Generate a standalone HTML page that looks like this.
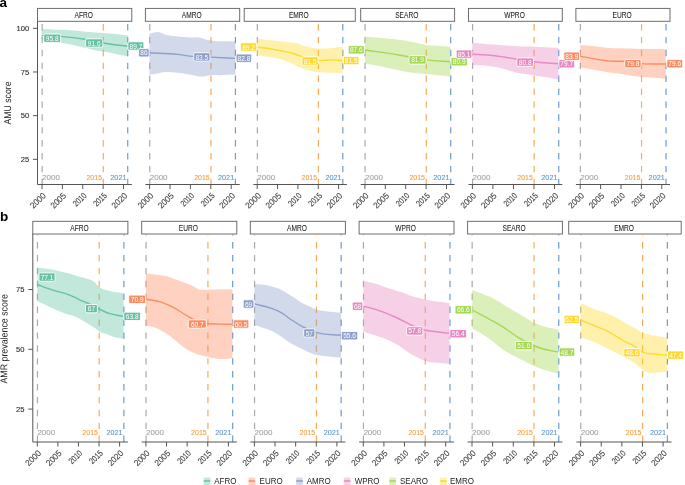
<!DOCTYPE html>
<html><head><meta charset="utf-8"><title>AMU and AMR scores</title>
<style>html,body{margin:0;padding:0;background:#fff;overflow:hidden}svg{display:block}</style>
</head><body>
<svg width="685" height="485" viewBox="0 0 685 485" font-family="'Liberation Sans', Arial, Helvetica, sans-serif">
<rect width="685" height="485" fill="#fff"/>
<rect x="37.5" y="8.4" width="94.3" height="12.9" fill="#fff" stroke="#666" stroke-width="0.95"/>
<text font-size="8.2" fill="#1a1a1a" text-anchor="middle" stroke="#1a1a1a" stroke-width="0.06" transform="translate(83.75,17.8) scale(0.8078,1)">AFRO</text>
<line x1="42.15" y1="184.5" x2="42.15" y2="21.4" stroke="#a9a9a9" stroke-width="1.2" stroke-dasharray="6.4 6.5" stroke-dashoffset="0.7"/>
<line x1="103.28" y1="184.5" x2="103.28" y2="21.4" stroke="#FAAA58" stroke-width="1.2" stroke-dasharray="6.4 6.5" stroke-dashoffset="0.7"/>
<line x1="127.73" y1="184.5" x2="127.73" y2="21.4" stroke="#6A9DCE" stroke-width="1.2" stroke-dasharray="6.4 6.5" stroke-dashoffset="0.7"/>
<path d="M41.7,29.1 C46.3,29.3 50.9,29.57 55.5,29.7 C56.97,29.74 58.43,29.75 59.9,29.8 C64.27,29.94 68.63,30.28 73,30.6 C77.4,30.92 81.8,31.3 86.2,31.7 C90,32.04 93.8,32.59 97.6,32.8 C99.47,32.9 101.33,32.91 103.2,33 C111.37,33.38 119.53,34.53 127.7,35.3 L127.7,56.6 C119.53,54.9 111.37,52.77 103.2,51.5 C101.33,51.21 99.47,51.02 97.6,50.7 C93.8,50.05 90,48.98 86.2,48.1 C81.8,47.08 77.4,45.92 73,45 C68.63,44.09 64.27,43.4 59.9,42.6 C58.43,42.33 56.97,42.06 55.5,41.8 C50.9,40.98 46.3,40.27 41.7,39.5 Z" fill="#66C2A5" fill-opacity="0.4"/>
<path d="M41.7,35.6 C47.8,35.87 53.9,35.95 60,36.4 C68.33,37.02 76.67,37.91 85,39.3 C91.07,40.31 97.13,41.94 103.2,43 C111.37,44.42 119.53,45.2 127.7,46.3" fill="none" stroke="#66C2A5" stroke-width="1.4" stroke-linejoin="round"/>
<text font-size="8.1" fill="#a3a3a3" stroke="#a3a3a3" stroke-width="0.1" transform="translate(42.1,179.7) scale(0.9938,1)">2000</text>
<text font-size="8.1" fill="#F99C3C" text-anchor="end" stroke="#F99C3C" stroke-width="0.1" transform="translate(102.03,179.7) scale(0.8642,1)">2015</text>
<text font-size="8.1" fill="#5F96CC" text-anchor="end" stroke="#5F96CC" stroke-width="0.1" transform="translate(126.48,179.7) scale(0.8988,1)">2021</text>
<line x1="37.5" y1="184.5" x2="131.8" y2="184.5" stroke="#555555" stroke-width="1"/>
<line x1="42" y1="184.5" x2="42" y2="189" stroke="#555555" stroke-width="1"/>
<text font-size="8.6" fill="#333" text-anchor="end" stroke="#333" stroke-width="0.08" transform="translate(46.4,196.2) rotate(-45) scale(0.9507,1)">2000</text>
<line x1="62.38" y1="184.5" x2="62.38" y2="189" stroke="#555555" stroke-width="1"/>
<text font-size="8.6" fill="#333" text-anchor="end" stroke="#333" stroke-width="0.08" transform="translate(66.78,196.2) rotate(-45) scale(0.9507,1)">2005</text>
<line x1="82.75" y1="184.5" x2="82.75" y2="189" stroke="#555555" stroke-width="1"/>
<text font-size="8.6" fill="#333" text-anchor="end" stroke="#333" stroke-width="0.08" transform="translate(87.15,196.2) rotate(-45) scale(0.8064,1)">2010</text>
<line x1="103.12" y1="184.5" x2="103.12" y2="189" stroke="#555555" stroke-width="1"/>
<text font-size="8.6" fill="#333" text-anchor="end" stroke="#333" stroke-width="0.08" transform="translate(107.53,196.2) rotate(-45) scale(0.8064,1)">2015</text>
<line x1="123.5" y1="184.5" x2="123.5" y2="189" stroke="#555555" stroke-width="1"/>
<text font-size="8.6" fill="#333" text-anchor="end" stroke="#333" stroke-width="0.08" transform="translate(127.9,196.2) rotate(-45) scale(0.9507,1)">2020</text>
<line x1="37.5" y1="21.4" x2="37.5" y2="184.5" stroke="#555555" stroke-width="1"/>
<line x1="33" y1="28.3" x2="37.5" y2="28.3" stroke="#555555" stroke-width="1"/>
<text font-size="8.1" fill="#2a2a2a" text-anchor="end" stroke="#2a2a2a" stroke-width="0.1" transform="translate(29.2,31.1) scale(0.9373,1)">100</text>
<line x1="33" y1="71.98" x2="37.5" y2="71.98" stroke="#555555" stroke-width="1"/>
<text font-size="8.1" fill="#2a2a2a" text-anchor="end" stroke="#2a2a2a" stroke-width="0.1" transform="translate(29.2,74.78) scale(0.9373,1)">75</text>
<line x1="33" y1="115.65" x2="37.5" y2="115.65" stroke="#555555" stroke-width="1"/>
<text font-size="8.1" fill="#2a2a2a" text-anchor="end" stroke="#2a2a2a" stroke-width="0.1" transform="translate(29.2,118.45) scale(0.9373,1)">50</text>
<line x1="33" y1="159.33" x2="37.5" y2="159.33" stroke="#555555" stroke-width="1"/>
<text font-size="8.1" fill="#2a2a2a" text-anchor="end" stroke="#2a2a2a" stroke-width="0.1" transform="translate(29.2,162.13) scale(0.9373,1)">25</text>
<rect x="145.4" y="8.4" width="94.3" height="12.9" fill="#fff" stroke="#666" stroke-width="0.95"/>
<text font-size="8.2" fill="#1a1a1a" text-anchor="middle" stroke="#1a1a1a" stroke-width="0.06" transform="translate(191.65,17.8) scale(0.8078,1)">AMRO</text>
<line x1="149.75" y1="184.5" x2="149.75" y2="21.4" stroke="#a9a9a9" stroke-width="1.2" stroke-dasharray="6.4 6.5" stroke-dashoffset="0.7"/>
<line x1="210.95" y1="184.5" x2="210.95" y2="21.4" stroke="#FAAA58" stroke-width="1.2" stroke-dasharray="6.4 6.5" stroke-dashoffset="0.7"/>
<line x1="235.43" y1="184.5" x2="235.43" y2="21.4" stroke="#6A9DCE" stroke-width="1.2" stroke-dasharray="6.4 6.5" stroke-dashoffset="0.7"/>
<path d="M149.5,33.8 C152.53,33.23 155.57,31.64 158.6,32.1 C160.63,32.41 162.67,33.79 164.7,34.4 C168.83,35.64 172.97,35.68 177.1,36.2 C181.23,36.72 185.37,37.31 189.5,37.5 C192.8,37.65 196.1,36.81 199.4,37.5 C201.23,37.89 203.07,38.79 204.9,39.3 C206.77,39.82 208.63,40.28 210.5,40.6 C213.57,41.12 216.63,41.07 219.7,41.2 C224.93,41.42 230.17,41.2 235.4,41.2 L235.4,74.6 C230.17,74.8 224.93,75.13 219.7,75.2 C216.63,75.24 213.57,74.79 210.5,75.2 C208.63,75.45 206.77,76.2 204.9,76.4 C203.07,76.59 201.23,76.52 199.4,76.4 C196.1,76.19 192.8,75.16 189.5,74.6 C185.37,73.9 181.23,73.12 177.1,72.7 C172.97,72.28 168.83,71.62 164.7,72.1 C162.67,72.34 160.63,72.94 158.6,73.3 C155.57,73.83 152.53,74.17 149.5,74.6 Z" fill="#8DA0CB" fill-opacity="0.4"/>
<path d="M149.5,52.8 C158.7,53.33 167.9,53.47 177.1,54.4 C182.4,54.94 187.7,55.95 193,56.4 C198.83,56.9 204.67,56.84 210.5,57.1 C218.8,57.47 227.1,57.93 235.4,58.35" fill="none" stroke="#8DA0CB" stroke-width="1.4" stroke-linejoin="round"/>
<text font-size="8.1" fill="#a3a3a3" stroke="#a3a3a3" stroke-width="0.1" transform="translate(149.7,179.7) scale(0.9938,1)">2000</text>
<text font-size="8.1" fill="#F99C3C" text-anchor="end" stroke="#F99C3C" stroke-width="0.1" transform="translate(209.7,179.7) scale(0.8642,1)">2015</text>
<text font-size="8.1" fill="#5F96CC" text-anchor="end" stroke="#5F96CC" stroke-width="0.1" transform="translate(234.18,179.7) scale(0.8988,1)">2021</text>
<line x1="145.4" y1="184.5" x2="239.7" y2="184.5" stroke="#555555" stroke-width="1"/>
<line x1="149.6" y1="184.5" x2="149.6" y2="189" stroke="#555555" stroke-width="1"/>
<text font-size="8.6" fill="#333" text-anchor="end" stroke="#333" stroke-width="0.08" transform="translate(154,196.2) rotate(-45) scale(0.9507,1)">2000</text>
<line x1="170" y1="184.5" x2="170" y2="189" stroke="#555555" stroke-width="1"/>
<text font-size="8.6" fill="#333" text-anchor="end" stroke="#333" stroke-width="0.08" transform="translate(174.4,196.2) rotate(-45) scale(0.9507,1)">2005</text>
<line x1="190.4" y1="184.5" x2="190.4" y2="189" stroke="#555555" stroke-width="1"/>
<text font-size="8.6" fill="#333" text-anchor="end" stroke="#333" stroke-width="0.08" transform="translate(194.8,196.2) rotate(-45) scale(0.8064,1)">2010</text>
<line x1="210.8" y1="184.5" x2="210.8" y2="189" stroke="#555555" stroke-width="1"/>
<text font-size="8.6" fill="#333" text-anchor="end" stroke="#333" stroke-width="0.08" transform="translate(215.2,196.2) rotate(-45) scale(0.8064,1)">2015</text>
<line x1="231.2" y1="184.5" x2="231.2" y2="189" stroke="#555555" stroke-width="1"/>
<text font-size="8.6" fill="#333" text-anchor="end" stroke="#333" stroke-width="0.08" transform="translate(235.6,196.2) rotate(-45) scale(0.9507,1)">2020</text>
<rect x="244.2" y="8.4" width="111.1" height="12.9" fill="#fff" stroke="#666" stroke-width="0.95"/>
<text font-size="8.2" fill="#1a1a1a" text-anchor="middle" stroke="#1a1a1a" stroke-width="0.06" transform="translate(298.85,17.8) scale(0.8078,1)">EMRO</text>
<line x1="257.35" y1="184.5" x2="257.35" y2="21.4" stroke="#a9a9a9" stroke-width="1.2" stroke-dasharray="6.4 6.5" stroke-dashoffset="0.7"/>
<line x1="318.4" y1="184.5" x2="318.4" y2="21.4" stroke="#FAAA58" stroke-width="1.2" stroke-dasharray="6.4 6.5" stroke-dashoffset="0.7"/>
<line x1="342.82" y1="184.5" x2="342.82" y2="21.4" stroke="#6A9DCE" stroke-width="1.2" stroke-dasharray="6.4 6.5" stroke-dashoffset="0.7"/>
<path d="M257.3,39.1 C259.93,39.3 262.57,39.46 265.2,39.7 C268.6,40.01 272,40.44 275.4,40.8 C278.83,41.17 282.27,41.52 285.7,41.9 C287.8,42.13 289.9,42.33 292,42.6 C293.67,42.81 295.33,42.8 297,43.3 C298.33,43.7 299.67,44.53 301,45 C302.67,45.59 304.33,45.87 306,46.3 C307.67,46.73 309.33,47.26 311,47.6 C313.53,48.12 316.07,48.34 318.6,48.5 C322.7,48.76 326.8,48.51 330.9,48.2 C334.83,47.9 338.77,47.2 342.7,46.7 L342.7,73.3 C338.77,73.1 334.83,72.9 330.9,72.7 C326.8,72.5 322.7,72.54 318.6,72.1 C316.07,71.83 313.53,71.6 311,71 C309.33,70.6 307.67,69.98 306,69.5 C304.33,69.02 302.67,68.75 301,68.1 C299.67,67.58 298.33,66.86 297,66.2 C295.33,65.38 293.67,64.4 292,63.6 C289.9,62.59 287.8,61.69 285.7,60.9 C282.27,59.61 278.83,58.65 275.4,57.9 C272,57.16 268.6,56.89 265.2,56.4 C262.57,56.02 259.93,55.67 257.3,55.3 Z" fill="#FFD92F" fill-opacity="0.4"/>
<path d="M257.3,47.2 C259.93,47.47 262.57,47.66 265.2,48 C268.6,48.44 272,49.07 275.4,49.7 C278.83,50.34 282.27,51.12 285.7,51.8 C287.4,52.14 289.1,52.35 290.8,52.8 C292.5,53.25 294.2,53.92 295.9,54.5 C297.6,55.08 299.3,55.74 301,56.3 C306.77,58.2 312.53,60.18 318.3,60.6 C322.5,60.9 326.7,59.88 330.9,59.9 C334.77,59.92 338.63,60.37 342.5,60.6" fill="none" stroke="#FFD92F" stroke-width="1.4" stroke-linejoin="round"/>
<text font-size="8.1" fill="#a3a3a3" stroke="#a3a3a3" stroke-width="0.1" transform="translate(257.3,179.7) scale(0.9938,1)">2000</text>
<text font-size="8.1" fill="#F99C3C" text-anchor="end" stroke="#F99C3C" stroke-width="0.1" transform="translate(317.15,179.7) scale(0.8642,1)">2015</text>
<text font-size="8.1" fill="#5F96CC" text-anchor="end" stroke="#5F96CC" stroke-width="0.1" transform="translate(341.57,179.7) scale(0.8988,1)">2021</text>
<line x1="253.4" y1="184.5" x2="346.9" y2="184.5" stroke="#555555" stroke-width="1"/>
<line x1="257.2" y1="184.5" x2="257.2" y2="189" stroke="#555555" stroke-width="1"/>
<text font-size="8.6" fill="#333" text-anchor="end" stroke="#333" stroke-width="0.08" transform="translate(261.6,196.2) rotate(-45) scale(0.9507,1)">2000</text>
<line x1="277.55" y1="184.5" x2="277.55" y2="189" stroke="#555555" stroke-width="1"/>
<text font-size="8.6" fill="#333" text-anchor="end" stroke="#333" stroke-width="0.08" transform="translate(281.95,196.2) rotate(-45) scale(0.9507,1)">2005</text>
<line x1="297.9" y1="184.5" x2="297.9" y2="189" stroke="#555555" stroke-width="1"/>
<text font-size="8.6" fill="#333" text-anchor="end" stroke="#333" stroke-width="0.08" transform="translate(302.3,196.2) rotate(-45) scale(0.8064,1)">2010</text>
<line x1="318.25" y1="184.5" x2="318.25" y2="189" stroke="#555555" stroke-width="1"/>
<text font-size="8.6" fill="#333" text-anchor="end" stroke="#333" stroke-width="0.08" transform="translate(322.65,196.2) rotate(-45) scale(0.8064,1)">2015</text>
<line x1="338.6" y1="184.5" x2="338.6" y2="189" stroke="#555555" stroke-width="1"/>
<text font-size="8.6" fill="#333" text-anchor="end" stroke="#333" stroke-width="0.08" transform="translate(343,196.2) rotate(-45) scale(0.9507,1)">2020</text>
<rect x="360.7" y="8.4" width="93.9" height="12.9" fill="#fff" stroke="#666" stroke-width="0.95"/>
<text font-size="8.2" fill="#1a1a1a" text-anchor="middle" stroke="#1a1a1a" stroke-width="0.06" transform="translate(406.75,17.8) scale(0.8078,1)">SEARO</text>
<line x1="365.05" y1="184.5" x2="365.05" y2="21.4" stroke="#a9a9a9" stroke-width="1.2" stroke-dasharray="6.4 6.5" stroke-dashoffset="0.7"/>
<line x1="426.25" y1="184.5" x2="426.25" y2="21.4" stroke="#FAAA58" stroke-width="1.2" stroke-dasharray="6.4 6.5" stroke-dashoffset="0.7"/>
<line x1="450.73" y1="184.5" x2="450.73" y2="21.4" stroke="#6A9DCE" stroke-width="1.2" stroke-dasharray="6.4 6.5" stroke-dashoffset="0.7"/>
<path d="M364.9,36.8 C370.63,37.23 376.37,37.6 382.1,38.1 C386.23,38.46 390.37,38.82 394.5,39.3 C397.8,39.68 401.1,40.09 404.4,40.6 C407.07,41.01 409.73,41.5 412.4,42 C416.93,42.86 421.47,44.26 426,44.9 C429.7,45.42 433.4,45.52 437.1,45.8 C441.57,46.13 446.03,46.4 450.5,46.7 L450.5,76.4 C446.03,76 441.57,75.65 437.1,75.2 C433.4,74.83 429.7,74.38 426,74 C421.47,73.54 416.93,73.29 412.4,72.7 C409.73,72.35 407.07,71.95 404.4,71.5 C401.1,70.94 397.8,70.32 394.5,69.6 C390.37,68.7 386.23,67.41 382.1,66.5 C376.37,65.23 370.63,64.43 364.9,63.4 Z" fill="#A6D854" fill-opacity="0.4"/>
<path d="M364.9,50 C376.6,51.73 388.3,53.26 400,55.2 C408.73,56.65 417.47,58.81 426.2,59.9 C434.27,60.91 442.33,61.1 450.4,61.7" fill="none" stroke="#A6D854" stroke-width="1.4" stroke-linejoin="round"/>
<text font-size="8.1" fill="#a3a3a3" stroke="#a3a3a3" stroke-width="0.1" transform="translate(365,179.7) scale(0.9938,1)">2000</text>
<text font-size="8.1" fill="#F99C3C" text-anchor="end" stroke="#F99C3C" stroke-width="0.1" transform="translate(425,179.7) scale(0.8642,1)">2015</text>
<text font-size="8.1" fill="#5F96CC" text-anchor="end" stroke="#5F96CC" stroke-width="0.1" transform="translate(449.48,179.7) scale(0.8988,1)">2021</text>
<line x1="360.7" y1="184.5" x2="454.6" y2="184.5" stroke="#555555" stroke-width="1"/>
<line x1="364.9" y1="184.5" x2="364.9" y2="189" stroke="#555555" stroke-width="1"/>
<text font-size="8.6" fill="#333" text-anchor="end" stroke="#333" stroke-width="0.08" transform="translate(369.3,196.2) rotate(-45) scale(0.9507,1)">2000</text>
<line x1="385.3" y1="184.5" x2="385.3" y2="189" stroke="#555555" stroke-width="1"/>
<text font-size="8.6" fill="#333" text-anchor="end" stroke="#333" stroke-width="0.08" transform="translate(389.7,196.2) rotate(-45) scale(0.9507,1)">2005</text>
<line x1="405.7" y1="184.5" x2="405.7" y2="189" stroke="#555555" stroke-width="1"/>
<text font-size="8.6" fill="#333" text-anchor="end" stroke="#333" stroke-width="0.08" transform="translate(410.1,196.2) rotate(-45) scale(0.8064,1)">2010</text>
<line x1="426.1" y1="184.5" x2="426.1" y2="189" stroke="#555555" stroke-width="1"/>
<text font-size="8.6" fill="#333" text-anchor="end" stroke="#333" stroke-width="0.08" transform="translate(430.5,196.2) rotate(-45) scale(0.8064,1)">2015</text>
<line x1="446.5" y1="184.5" x2="446.5" y2="189" stroke="#555555" stroke-width="1"/>
<text font-size="8.6" fill="#333" text-anchor="end" stroke="#333" stroke-width="0.08" transform="translate(450.9,196.2) rotate(-45) scale(0.9507,1)">2020</text>
<rect x="468.5" y="8.4" width="93.8" height="12.9" fill="#fff" stroke="#666" stroke-width="0.95"/>
<text font-size="8.2" fill="#1a1a1a" text-anchor="middle" stroke="#1a1a1a" stroke-width="0.06" transform="translate(514.5,17.8) scale(0.8078,1)">WPRO</text>
<line x1="472.55" y1="184.5" x2="472.55" y2="21.4" stroke="#a9a9a9" stroke-width="1.2" stroke-dasharray="6.4 6.5" stroke-dashoffset="0.7"/>
<line x1="534.12" y1="184.5" x2="534.12" y2="21.4" stroke="#FAAA58" stroke-width="1.2" stroke-dasharray="6.4 6.5" stroke-dashoffset="0.7"/>
<line x1="558.75" y1="184.5" x2="558.75" y2="21.4" stroke="#6A9DCE" stroke-width="1.2" stroke-dasharray="6.4 6.5" stroke-dashoffset="0.7"/>
<path d="M472.3,42.8 C477.63,43.3 482.97,43.93 488.3,44.3 C492.2,44.57 496.1,44.64 500,44.9 C504.13,45.17 508.27,45.63 512.4,45.9 C516.5,46.17 520.6,46.36 524.7,46.5 C527.7,46.6 530.7,46.61 533.7,46.7 C538.97,46.86 544.23,47.2 549.5,47.4 C552.47,47.51 555.43,47.6 558.4,47.7 L558.4,79.5 C555.43,78.9 552.47,78.25 549.5,77.7 C544.23,76.72 538.97,75.95 533.7,75.2 C530.7,74.77 527.7,74.49 524.7,74 C520.6,73.33 516.5,72.53 512.4,71.5 C508.27,70.46 504.13,68.74 500,67.8 C496.1,66.91 492.2,66.33 488.3,65.9 C482.97,65.32 477.63,65.5 472.3,65.3 Z" fill="#E78AC3" fill-opacity="0.4"/>
<path d="M472.3,54.3 C478.2,54.6 484.1,54.64 490,55.2 C494.67,55.64 499.33,56.35 504,57 C513.9,58.38 523.8,60.64 533.7,61.8 C541.93,62.77 550.17,63.13 558.4,63.8" fill="none" stroke="#E78AC3" stroke-width="1.4" stroke-linejoin="round"/>
<text font-size="8.1" fill="#a3a3a3" stroke="#a3a3a3" stroke-width="0.1" transform="translate(472.5,179.7) scale(0.9938,1)">2000</text>
<text font-size="8.1" fill="#F99C3C" text-anchor="end" stroke="#F99C3C" stroke-width="0.1" transform="translate(532.88,179.7) scale(0.8642,1)">2015</text>
<text font-size="8.1" fill="#5F96CC" text-anchor="end" stroke="#5F96CC" stroke-width="0.1" transform="translate(557.5,179.7) scale(0.8988,1)">2021</text>
<line x1="468.5" y1="184.5" x2="562.3" y2="184.5" stroke="#555555" stroke-width="1"/>
<line x1="472.4" y1="184.5" x2="472.4" y2="189" stroke="#555555" stroke-width="1"/>
<text font-size="8.6" fill="#333" text-anchor="end" stroke="#333" stroke-width="0.08" transform="translate(476.8,196.2) rotate(-45) scale(0.9507,1)">2000</text>
<line x1="492.92" y1="184.5" x2="492.92" y2="189" stroke="#555555" stroke-width="1"/>
<text font-size="8.6" fill="#333" text-anchor="end" stroke="#333" stroke-width="0.08" transform="translate(497.32,196.2) rotate(-45) scale(0.9507,1)">2005</text>
<line x1="513.45" y1="184.5" x2="513.45" y2="189" stroke="#555555" stroke-width="1"/>
<text font-size="8.6" fill="#333" text-anchor="end" stroke="#333" stroke-width="0.08" transform="translate(517.85,196.2) rotate(-45) scale(0.8064,1)">2010</text>
<line x1="533.98" y1="184.5" x2="533.98" y2="189" stroke="#555555" stroke-width="1"/>
<text font-size="8.6" fill="#333" text-anchor="end" stroke="#333" stroke-width="0.08" transform="translate(538.38,196.2) rotate(-45) scale(0.8064,1)">2015</text>
<line x1="554.5" y1="184.5" x2="554.5" y2="189" stroke="#555555" stroke-width="1"/>
<text font-size="8.6" fill="#333" text-anchor="end" stroke="#333" stroke-width="0.08" transform="translate(558.9,196.2) rotate(-45) scale(0.9507,1)">2020</text>
<rect x="575.9" y="8.4" width="94.1" height="12.9" fill="#fff" stroke="#666" stroke-width="0.95"/>
<text font-size="8.2" fill="#1a1a1a" text-anchor="middle" stroke="#1a1a1a" stroke-width="0.06" transform="translate(622.05,17.8) scale(0.8078,1)">EURO</text>
<line x1="580.35" y1="184.5" x2="580.35" y2="21.4" stroke="#a9a9a9" stroke-width="1.2" stroke-dasharray="6.4 6.5" stroke-dashoffset="0.7"/>
<line x1="641.55" y1="184.5" x2="641.55" y2="21.4" stroke="#FAAA58" stroke-width="1.2" stroke-dasharray="6.4 6.5" stroke-dashoffset="0.7"/>
<line x1="666.03" y1="184.5" x2="666.03" y2="21.4" stroke="#6A9DCE" stroke-width="1.2" stroke-dasharray="6.4 6.5" stroke-dashoffset="0.7"/>
<path d="M580.2,44.9 C584.17,45.3 588.13,45.69 592.1,46.1 C596.23,46.52 600.37,47.02 604.5,47.4 C607.8,47.7 611.1,48.08 614.4,48.2 C617.07,48.3 619.73,48.1 622.4,48.2 C624.47,48.28 626.53,48.49 628.6,48.6 C632.87,48.83 637.13,48.94 641.4,49 C645.37,49.06 649.33,48.97 653.3,49 C657.43,49.03 661.57,49.13 665.7,49.2 L665.7,78.7 C661.57,78.37 657.43,77.97 653.3,77.7 C649.33,77.44 645.37,77.49 641.4,77.1 C637.13,76.68 632.87,75.96 628.6,75.2 C626.53,74.83 624.47,74.3 622.4,74 C619.73,73.61 617.07,73.65 614.4,73.3 C611.1,72.87 607.8,72.06 604.5,71.5 C600.37,70.8 596.23,70.34 592.1,69.6 C588.13,68.89 584.17,68 580.2,67.2 Z" fill="#FC8D62" fill-opacity="0.4"/>
<path d="M580.2,56.4 C591.6,58.03 603,60.99 614.4,61.3 C617.07,61.37 619.73,61.2 622.4,61.3 C628.73,61.53 635.07,63.12 641.4,63.6 C649.5,64.21 657.6,63.87 665.7,64" fill="none" stroke="#FC8D62" stroke-width="1.4" stroke-linejoin="round"/>
<text font-size="8.1" fill="#a3a3a3" stroke="#a3a3a3" stroke-width="0.1" transform="translate(580.3,179.7) scale(0.9938,1)">2000</text>
<text font-size="8.1" fill="#F99C3C" text-anchor="end" stroke="#F99C3C" stroke-width="0.1" transform="translate(640.3,179.7) scale(0.8642,1)">2015</text>
<text font-size="8.1" fill="#5F96CC" text-anchor="end" stroke="#5F96CC" stroke-width="0.1" transform="translate(664.78,179.7) scale(0.8988,1)">2021</text>
<line x1="575.9" y1="184.5" x2="670" y2="184.5" stroke="#555555" stroke-width="1"/>
<line x1="580.2" y1="184.5" x2="580.2" y2="189" stroke="#555555" stroke-width="1"/>
<text font-size="8.6" fill="#333" text-anchor="end" stroke="#333" stroke-width="0.08" transform="translate(584.6,196.2) rotate(-45) scale(0.9507,1)">2000</text>
<line x1="600.6" y1="184.5" x2="600.6" y2="189" stroke="#555555" stroke-width="1"/>
<text font-size="8.6" fill="#333" text-anchor="end" stroke="#333" stroke-width="0.08" transform="translate(605,196.2) rotate(-45) scale(0.9507,1)">2005</text>
<line x1="621" y1="184.5" x2="621" y2="189" stroke="#555555" stroke-width="1"/>
<text font-size="8.6" fill="#333" text-anchor="end" stroke="#333" stroke-width="0.08" transform="translate(625.4,196.2) rotate(-45) scale(0.8064,1)">2010</text>
<line x1="641.4" y1="184.5" x2="641.4" y2="189" stroke="#555555" stroke-width="1"/>
<text font-size="8.6" fill="#333" text-anchor="end" stroke="#333" stroke-width="0.08" transform="translate(645.8,196.2) rotate(-45) scale(0.8064,1)">2015</text>
<line x1="661.8" y1="184.5" x2="661.8" y2="189" stroke="#555555" stroke-width="1"/>
<text font-size="8.6" fill="#333" text-anchor="end" stroke="#333" stroke-width="0.08" transform="translate(666.2,196.2) rotate(-45) scale(0.9507,1)">2020</text>
<rect x="32.8" y="221.3" width="95.1" height="12.7" fill="#fff" stroke="#666" stroke-width="0.95"/>
<text font-size="8.2" fill="#1a1a1a" text-anchor="middle" stroke="#1a1a1a" stroke-width="0.06" transform="translate(79.45,230.5) scale(0.8078,1)">AFRO</text>
<line x1="37.45" y1="442" x2="37.45" y2="234" stroke="#a9a9a9" stroke-width="1.2" stroke-dasharray="6.4 6.5" stroke-dashoffset="0"/>
<line x1="99.18" y1="442" x2="99.18" y2="234" stroke="#FAAA58" stroke-width="1.2" stroke-dasharray="6.4 6.5" stroke-dashoffset="0"/>
<line x1="123.87" y1="442" x2="123.87" y2="234" stroke="#6A9DCE" stroke-width="1.2" stroke-dasharray="6.4 6.5" stroke-dashoffset="0"/>
<path d="M37.4,267.4 C40.77,267.87 44.13,268.24 47.5,268.8 C50.43,269.29 53.37,269.86 56.3,270.5 C59.2,271.13 62.1,271.87 65,272.6 C67.93,273.34 70.87,274.08 73.8,274.9 C76.7,275.71 79.6,276.61 82.5,277.5 C85.43,278.4 88.37,278.72 91.3,280.3 C92.7,281.05 94.1,281.65 95.5,283 C96.43,283.9 97.37,285.38 98.3,286.3 C100.63,288.6 102.97,288.9 105.3,289.8 C108.23,290.93 111.17,291.39 114.1,291.9 C117.23,292.45 120.37,292.57 123.5,292.9 L123.5,338.8 C120.37,338.23 117.23,338.02 114.1,337.1 C111.17,336.24 108.23,334.75 105.3,333.6 C102.97,332.69 100.63,332.59 98.3,330.9 C97.37,330.23 96.43,329.23 95.5,328.5 C94.1,327.41 92.7,326.6 91.3,325.7 C88.37,323.81 85.43,322.02 82.5,320.4 C79.6,318.79 76.7,317.16 73.8,316 C70.87,314.82 67.93,314.42 65,313.4 C62.1,312.39 59.2,311.14 56.3,309.9 C53.37,308.64 50.43,307.25 47.5,305.9 C44.13,304.35 40.77,302.77 37.4,301.2 Z" fill="#66C2A5" fill-opacity="0.4"/>
<path d="M37.4,284.5 C40.77,285.8 44.13,287.22 47.5,288.4 C50.43,289.43 53.37,290.38 56.3,291.2 C59.2,292.01 62.1,292.37 65,293.3 C67.93,294.24 70.87,295.47 73.8,296.8 C76.7,298.11 79.6,299.95 82.5,301.2 C84.83,302.21 87.17,302.77 89.5,303.8 C92.7,305.22 95.9,307.42 99.1,309 C102.4,310.63 105.7,312.25 109,313.4 C113.83,315.08 118.67,315.4 123.5,316.4" fill="none" stroke="#66C2A5" stroke-width="1.4" stroke-linejoin="round"/>
<text font-size="8.1" fill="#a3a3a3" stroke="#a3a3a3" stroke-width="0.1" transform="translate(37.4,435.3) scale(0.9938,1)">2000</text>
<text font-size="8.1" fill="#F99C3C" text-anchor="end" stroke="#F99C3C" stroke-width="0.1" transform="translate(97.93,435.3) scale(0.8642,1)">2015</text>
<text font-size="8.1" fill="#5F96CC" text-anchor="end" stroke="#5F96CC" stroke-width="0.1" transform="translate(122.62,435.3) scale(0.8988,1)">2021</text>
<line x1="32.8" y1="442" x2="127.9" y2="442" stroke="#555555" stroke-width="1"/>
<line x1="37.3" y1="442" x2="37.3" y2="446.5" stroke="#555555" stroke-width="1"/>
<text font-size="8.6" fill="#333" text-anchor="end" stroke="#333" stroke-width="0.08" transform="translate(41.7,453.7) rotate(-45) scale(0.9507,1)">2000</text>
<line x1="57.88" y1="442" x2="57.88" y2="446.5" stroke="#555555" stroke-width="1"/>
<text font-size="8.6" fill="#333" text-anchor="end" stroke="#333" stroke-width="0.08" transform="translate(62.27,453.7) rotate(-45) scale(0.9507,1)">2005</text>
<line x1="78.45" y1="442" x2="78.45" y2="446.5" stroke="#555555" stroke-width="1"/>
<text font-size="8.6" fill="#333" text-anchor="end" stroke="#333" stroke-width="0.08" transform="translate(82.85,453.7) rotate(-45) scale(0.8064,1)">2010</text>
<line x1="99.03" y1="442" x2="99.03" y2="446.5" stroke="#555555" stroke-width="1"/>
<text font-size="8.6" fill="#333" text-anchor="end" stroke="#333" stroke-width="0.08" transform="translate(103.43,453.7) rotate(-45) scale(0.8064,1)">2015</text>
<line x1="119.6" y1="442" x2="119.6" y2="446.5" stroke="#555555" stroke-width="1"/>
<text font-size="8.6" fill="#333" text-anchor="end" stroke="#333" stroke-width="0.08" transform="translate(124,453.7) rotate(-45) scale(0.9507,1)">2020</text>
<line x1="32.8" y1="234" x2="32.8" y2="442" stroke="#555555" stroke-width="1"/>
<line x1="28.3" y1="289.5" x2="32.8" y2="289.5" stroke="#555555" stroke-width="1"/>
<text font-size="8.1" fill="#2a2a2a" text-anchor="end" stroke="#2a2a2a" stroke-width="0.1" transform="translate(24.5,292.3) scale(0.9373,1)">75</text>
<line x1="28.3" y1="349.3" x2="32.8" y2="349.3" stroke="#555555" stroke-width="1"/>
<text font-size="8.1" fill="#2a2a2a" text-anchor="end" stroke="#2a2a2a" stroke-width="0.1" transform="translate(24.5,352.1) scale(0.9373,1)">50</text>
<line x1="28.3" y1="409.1" x2="32.8" y2="409.1" stroke="#555555" stroke-width="1"/>
<text font-size="8.1" fill="#2a2a2a" text-anchor="end" stroke="#2a2a2a" stroke-width="0.1" transform="translate(24.5,411.9) scale(0.9373,1)">25</text>
<rect x="141.7" y="221.3" width="95.1" height="12.7" fill="#fff" stroke="#666" stroke-width="0.95"/>
<text font-size="8.2" fill="#1a1a1a" text-anchor="middle" stroke="#1a1a1a" stroke-width="0.06" transform="translate(188.35,230.5) scale(0.8078,1)">EURO</text>
<line x1="146.05" y1="442" x2="146.05" y2="234" stroke="#a9a9a9" stroke-width="1.2" stroke-dasharray="6.4 6.5" stroke-dashoffset="0"/>
<line x1="207.93" y1="442" x2="207.93" y2="234" stroke="#FAAA58" stroke-width="1.2" stroke-dasharray="6.4 6.5" stroke-dashoffset="0"/>
<line x1="232.68" y1="442" x2="232.68" y2="234" stroke="#6A9DCE" stroke-width="1.2" stroke-dasharray="6.4 6.5" stroke-dashoffset="0"/>
<path d="M145.9,273.6 C148.8,273.9 151.7,274.17 154.6,274.5 C156.8,274.75 159,274.94 161.2,275.3 C163.87,275.73 166.53,276.21 169.2,277 C171.47,277.67 173.73,278.65 176,279.5 C178.6,280.48 181.2,281.55 183.8,282.5 C186.2,283.38 188.6,283.91 191,285 C193.47,286.12 195.93,288.38 198.4,289.2 C201.33,290.18 204.27,289.64 207.2,289.7 C211.57,289.79 215.93,289.36 220.3,289.3 C224.33,289.24 228.37,289.3 232.4,289.3 L232.4,358.3 C228.37,358.5 224.33,359.12 220.3,358.9 C215.93,358.66 211.57,357.65 207.2,356.7 C204.27,356.06 201.33,355.48 198.4,354.5 C195.93,353.68 193.47,352.74 191,351.5 C188.6,350.29 186.2,348.86 183.8,347.2 C181.2,345.4 178.6,343.09 176,341 C173.73,339.18 171.47,337.14 169.2,335.5 C166.53,333.57 163.87,331.92 161.2,330.5 C159,329.33 156.8,328.29 154.6,327.5 C151.7,326.46 148.8,326.17 145.9,325.5 Z" fill="#FC8D62" fill-opacity="0.4"/>
<path d="M145.9,299.3 C151,300.23 156.1,300.42 161.2,302.1 C165.3,303.45 169.4,305.41 173.5,307.6 C176,308.93 178.5,310.5 181,312 C183.87,313.72 186.73,315.68 189.6,317.3 C193.27,319.37 196.93,321.87 200.6,322.8 C202.87,323.38 205.13,323.31 207.4,323.5 C211.6,323.85 215.8,323.98 220,324.1 C224.13,324.21 228.27,324.17 232.4,324.2" fill="none" stroke="#FC8D62" stroke-width="1.4" stroke-linejoin="round"/>
<text font-size="8.1" fill="#a3a3a3" stroke="#a3a3a3" stroke-width="0.1" transform="translate(146,435.3) scale(0.9938,1)">2000</text>
<text font-size="8.1" fill="#F99C3C" text-anchor="end" stroke="#F99C3C" stroke-width="0.1" transform="translate(206.68,435.3) scale(0.8642,1)">2015</text>
<text font-size="8.1" fill="#5F96CC" text-anchor="end" stroke="#5F96CC" stroke-width="0.1" transform="translate(231.43,435.3) scale(0.8988,1)">2021</text>
<line x1="141.7" y1="442" x2="236.8" y2="442" stroke="#555555" stroke-width="1"/>
<line x1="145.9" y1="442" x2="145.9" y2="446.5" stroke="#555555" stroke-width="1"/>
<text font-size="8.6" fill="#333" text-anchor="end" stroke="#333" stroke-width="0.08" transform="translate(150.3,453.7) rotate(-45) scale(0.9507,1)">2000</text>
<line x1="166.53" y1="442" x2="166.53" y2="446.5" stroke="#555555" stroke-width="1"/>
<text font-size="8.6" fill="#333" text-anchor="end" stroke="#333" stroke-width="0.08" transform="translate(170.93,453.7) rotate(-45) scale(0.9507,1)">2005</text>
<line x1="187.15" y1="442" x2="187.15" y2="446.5" stroke="#555555" stroke-width="1"/>
<text font-size="8.6" fill="#333" text-anchor="end" stroke="#333" stroke-width="0.08" transform="translate(191.55,453.7) rotate(-45) scale(0.8064,1)">2010</text>
<line x1="207.78" y1="442" x2="207.78" y2="446.5" stroke="#555555" stroke-width="1"/>
<text font-size="8.6" fill="#333" text-anchor="end" stroke="#333" stroke-width="0.08" transform="translate(212.18,453.7) rotate(-45) scale(0.8064,1)">2015</text>
<line x1="228.4" y1="442" x2="228.4" y2="446.5" stroke="#555555" stroke-width="1"/>
<text font-size="8.6" fill="#333" text-anchor="end" stroke="#333" stroke-width="0.08" transform="translate(232.8,453.7) rotate(-45) scale(0.9507,1)">2020</text>
<rect x="250.3" y="221.3" width="95.1" height="12.7" fill="#fff" stroke="#666" stroke-width="0.95"/>
<text font-size="8.2" fill="#1a1a1a" text-anchor="middle" stroke="#1a1a1a" stroke-width="0.06" transform="translate(296.95,230.5) scale(0.8078,1)">AMRO</text>
<line x1="254.55" y1="442" x2="254.55" y2="234" stroke="#a9a9a9" stroke-width="1.2" stroke-dasharray="6.4 6.5" stroke-dashoffset="0"/>
<line x1="316.42" y1="442" x2="316.42" y2="234" stroke="#FAAA58" stroke-width="1.2" stroke-dasharray="6.4 6.5" stroke-dashoffset="0"/>
<line x1="341.17" y1="442" x2="341.17" y2="234" stroke="#6A9DCE" stroke-width="1.2" stroke-dasharray="6.4 6.5" stroke-dashoffset="0"/>
<path d="M254.4,283.9 C256.93,284.1 259.47,284.16 262,284.5 C265.3,284.94 268.6,285.59 271.9,286.5 C275,287.35 278.1,288.08 281.2,289.7 C282.97,290.62 284.73,291.92 286.5,293 C289,294.53 291.5,295.87 294,297.5 C296.37,299.05 298.73,301.1 301.1,302.5 C303.4,303.86 305.7,304.74 308,305.8 C310.57,306.98 313.13,308.33 315.7,309.2 C319.1,310.36 322.5,310.75 325.9,311.3 C330.97,312.13 336.03,312.3 341.1,312.8 L341.1,357.7 C336.03,357.23 330.97,356.96 325.9,356.3 C322.5,355.86 319.1,355.61 315.7,354.7 C313.13,354.01 310.57,353.11 308,352 C305.7,351 303.4,349.65 301.1,348.5 C298.73,347.32 296.37,346.31 294,345 C291.5,343.62 289,342.11 286.5,340.4 C284.73,339.19 282.97,337.71 281.2,336.5 C278.1,334.38 275,332.48 271.9,331 C268.6,329.43 265.3,328.6 262,327.5 C259.47,326.66 256.93,325.9 254.4,325.1 Z" fill="#8DA0CB" fill-opacity="0.4"/>
<path d="M254.4,303.9 C259.9,305.33 265.4,306.2 270.9,308.2 C274.33,309.45 277.77,310.65 281.2,312.6 C284.67,314.57 288.13,317.73 291.6,320 C295.73,322.71 299.87,325.22 304,327.3 C308.07,329.34 312.13,331.1 316.2,332.4 C324.5,335.05 332.8,334.33 341.1,335.3" fill="none" stroke="#8DA0CB" stroke-width="1.4" stroke-linejoin="round"/>
<text font-size="8.1" fill="#a3a3a3" stroke="#a3a3a3" stroke-width="0.1" transform="translate(254.5,435.3) scale(0.9938,1)">2000</text>
<text font-size="8.1" fill="#F99C3C" text-anchor="end" stroke="#F99C3C" stroke-width="0.1" transform="translate(315.17,435.3) scale(0.8642,1)">2015</text>
<text font-size="8.1" fill="#5F96CC" text-anchor="end" stroke="#5F96CC" stroke-width="0.1" transform="translate(339.92,435.3) scale(0.8988,1)">2021</text>
<line x1="250.3" y1="442" x2="345.4" y2="442" stroke="#555555" stroke-width="1"/>
<line x1="254.4" y1="442" x2="254.4" y2="446.5" stroke="#555555" stroke-width="1"/>
<text font-size="8.6" fill="#333" text-anchor="end" stroke="#333" stroke-width="0.08" transform="translate(258.8,453.7) rotate(-45) scale(0.9507,1)">2000</text>
<line x1="275.02" y1="442" x2="275.02" y2="446.5" stroke="#555555" stroke-width="1"/>
<text font-size="8.6" fill="#333" text-anchor="end" stroke="#333" stroke-width="0.08" transform="translate(279.42,453.7) rotate(-45) scale(0.9507,1)">2005</text>
<line x1="295.65" y1="442" x2="295.65" y2="446.5" stroke="#555555" stroke-width="1"/>
<text font-size="8.6" fill="#333" text-anchor="end" stroke="#333" stroke-width="0.08" transform="translate(300.05,453.7) rotate(-45) scale(0.8064,1)">2010</text>
<line x1="316.27" y1="442" x2="316.27" y2="446.5" stroke="#555555" stroke-width="1"/>
<text font-size="8.6" fill="#333" text-anchor="end" stroke="#333" stroke-width="0.08" transform="translate(320.67,453.7) rotate(-45) scale(0.8064,1)">2015</text>
<line x1="336.9" y1="442" x2="336.9" y2="446.5" stroke="#555555" stroke-width="1"/>
<text font-size="8.6" fill="#333" text-anchor="end" stroke="#333" stroke-width="0.08" transform="translate(341.3,453.7) rotate(-45) scale(0.9507,1)">2020</text>
<rect x="359.1" y="221.3" width="94.9" height="12.7" fill="#fff" stroke="#666" stroke-width="0.95"/>
<text font-size="8.2" fill="#1a1a1a" text-anchor="middle" stroke="#1a1a1a" stroke-width="0.06" transform="translate(405.65,230.5) scale(0.8078,1)">WPRO</text>
<line x1="363.45" y1="442" x2="363.45" y2="234" stroke="#a9a9a9" stroke-width="1.2" stroke-dasharray="6.4 6.5" stroke-dashoffset="0"/>
<line x1="425.25" y1="442" x2="425.25" y2="234" stroke="#FAAA58" stroke-width="1.2" stroke-dasharray="6.4 6.5" stroke-dashoffset="0"/>
<line x1="449.97" y1="442" x2="449.97" y2="234" stroke="#6A9DCE" stroke-width="1.2" stroke-dasharray="6.4 6.5" stroke-dashoffset="0"/>
<path d="M363.3,281.1 C367.07,281.9 370.83,282.49 374.6,283.5 C379.47,284.81 384.33,286.93 389.2,288.5 C391.53,289.25 393.87,289.98 396.2,290.7 C398.73,291.48 401.27,292.1 403.8,293 C406.2,293.85 408.6,295.11 411,295.9 C413.47,296.72 415.93,297.15 418.4,297.8 C420.6,298.38 422.8,299.07 425,299.6 C428.63,300.47 432.27,301.05 435.9,301.6 C440.43,302.28 444.97,302.6 449.5,303.1 L449.5,363.8 C444.97,363.4 440.43,363.17 435.9,362.6 C432.27,362.14 428.63,362.11 425,360.9 C422.8,360.17 420.6,359.07 418.4,358 C415.93,356.8 413.47,355.49 411,354 C408.6,352.55 406.2,350.82 403.8,349.2 C401.27,347.49 398.73,345.51 396.2,344 C393.87,342.61 391.53,341.48 389.2,340.4 C384.33,338.16 379.47,336.96 374.6,335.3 C370.83,334.01 367.07,332.77 363.3,331.5 Z" fill="#E78AC3" fill-opacity="0.4"/>
<path d="M363.3,306.2 C367.4,307.23 371.5,308.04 375.6,309.3 C382.47,311.41 389.33,314.38 396.2,317.5 C401.67,319.99 407.13,323.42 412.6,325.7 C416.83,327.47 421.07,329.19 425.3,330.2 C428.87,331.05 432.43,331.22 436,331.7 C440.5,332.3 445,332.83 449.5,333.4" fill="none" stroke="#E78AC3" stroke-width="1.4" stroke-linejoin="round"/>
<text font-size="8.1" fill="#a3a3a3" stroke="#a3a3a3" stroke-width="0.1" transform="translate(363.4,435.3) scale(0.9938,1)">2000</text>
<text font-size="8.1" fill="#F99C3C" text-anchor="end" stroke="#F99C3C" stroke-width="0.1" transform="translate(424,435.3) scale(0.8642,1)">2015</text>
<text font-size="8.1" fill="#5F96CC" text-anchor="end" stroke="#5F96CC" stroke-width="0.1" transform="translate(448.72,435.3) scale(0.8988,1)">2021</text>
<line x1="359.1" y1="442" x2="454" y2="442" stroke="#555555" stroke-width="1"/>
<line x1="363.3" y1="442" x2="363.3" y2="446.5" stroke="#555555" stroke-width="1"/>
<text font-size="8.6" fill="#333" text-anchor="end" stroke="#333" stroke-width="0.08" transform="translate(367.7,453.7) rotate(-45) scale(0.9507,1)">2000</text>
<line x1="383.9" y1="442" x2="383.9" y2="446.5" stroke="#555555" stroke-width="1"/>
<text font-size="8.6" fill="#333" text-anchor="end" stroke="#333" stroke-width="0.08" transform="translate(388.3,453.7) rotate(-45) scale(0.9507,1)">2005</text>
<line x1="404.5" y1="442" x2="404.5" y2="446.5" stroke="#555555" stroke-width="1"/>
<text font-size="8.6" fill="#333" text-anchor="end" stroke="#333" stroke-width="0.08" transform="translate(408.9,453.7) rotate(-45) scale(0.8064,1)">2010</text>
<line x1="425.1" y1="442" x2="425.1" y2="446.5" stroke="#555555" stroke-width="1"/>
<text font-size="8.6" fill="#333" text-anchor="end" stroke="#333" stroke-width="0.08" transform="translate(429.5,453.7) rotate(-45) scale(0.8064,1)">2015</text>
<line x1="445.7" y1="442" x2="445.7" y2="446.5" stroke="#555555" stroke-width="1"/>
<text font-size="8.6" fill="#333" text-anchor="end" stroke="#333" stroke-width="0.08" transform="translate(450.1,453.7) rotate(-45) scale(0.9507,1)">2020</text>
<rect x="467.6" y="221.3" width="94.8" height="12.7" fill="#fff" stroke="#666" stroke-width="0.95"/>
<text font-size="8.2" fill="#1a1a1a" text-anchor="middle" stroke="#1a1a1a" stroke-width="0.06" transform="translate(514.1,230.5) scale(0.8078,1)">SEARO</text>
<line x1="472.15" y1="442" x2="472.15" y2="234" stroke="#a9a9a9" stroke-width="1.2" stroke-dasharray="6.4 6.5" stroke-dashoffset="0"/>
<line x1="534.02" y1="442" x2="534.02" y2="234" stroke="#FAAA58" stroke-width="1.2" stroke-dasharray="6.4 6.5" stroke-dashoffset="0"/>
<line x1="558.77" y1="442" x2="558.77" y2="234" stroke="#6A9DCE" stroke-width="1.2" stroke-dasharray="6.4 6.5" stroke-dashoffset="0"/>
<path d="M472.2,289.9 C475.3,291.07 478.4,292.2 481.5,293.4 C484.93,294.73 488.37,295.78 491.8,297.5 C495.23,299.22 498.67,301.63 502.1,303.7 C505.53,305.77 508.97,307.85 512.4,309.9 C515.83,311.95 519.27,313.95 522.7,316 C526.13,318.05 529.57,320.48 533,322.2 C536.43,323.92 539.87,325.2 543.3,326.3 C548.3,327.9 553.3,328.37 558.3,329.4 L558.3,373.7 C553.3,372.33 548.3,371.34 543.3,369.6 C539.87,368.41 536.43,367.05 533,365.5 C529.57,363.95 526.13,362.02 522.7,360.3 C519.27,358.58 515.83,357.08 512.4,355.2 C508.97,353.32 505.53,351.4 502.1,349 C498.67,346.6 495.23,343.37 491.8,340.8 C488.37,338.23 484.93,335.75 481.5,333.6 C478.4,331.66 475.3,330.13 472.2,328.4 Z" fill="#A6D854" fill-opacity="0.4"/>
<path d="M472.2,309.9 C476.67,312.3 481.13,314.66 485.6,317.1 C491.1,320.11 496.6,322.87 502.1,326.3 C507.6,329.73 513.1,334.38 518.6,337.7 C523.57,340.69 528.53,343.4 533.5,345.5 C536.77,346.88 540.03,348.03 543.3,349 C548.3,350.49 553.3,351.07 558.3,352.1" fill="none" stroke="#A6D854" stroke-width="1.4" stroke-linejoin="round"/>
<text font-size="8.1" fill="#a3a3a3" stroke="#a3a3a3" stroke-width="0.1" transform="translate(472.1,435.3) scale(0.9938,1)">2000</text>
<text font-size="8.1" fill="#F99C3C" text-anchor="end" stroke="#F99C3C" stroke-width="0.1" transform="translate(532.77,435.3) scale(0.8642,1)">2015</text>
<text font-size="8.1" fill="#5F96CC" text-anchor="end" stroke="#5F96CC" stroke-width="0.1" transform="translate(557.52,435.3) scale(0.8988,1)">2021</text>
<line x1="467.6" y1="442" x2="562.4" y2="442" stroke="#555555" stroke-width="1"/>
<line x1="472" y1="442" x2="472" y2="446.5" stroke="#555555" stroke-width="1"/>
<text font-size="8.6" fill="#333" text-anchor="end" stroke="#333" stroke-width="0.08" transform="translate(476.4,453.7) rotate(-45) scale(0.9507,1)">2000</text>
<line x1="492.62" y1="442" x2="492.62" y2="446.5" stroke="#555555" stroke-width="1"/>
<text font-size="8.6" fill="#333" text-anchor="end" stroke="#333" stroke-width="0.08" transform="translate(497.02,453.7) rotate(-45) scale(0.9507,1)">2005</text>
<line x1="513.25" y1="442" x2="513.25" y2="446.5" stroke="#555555" stroke-width="1"/>
<text font-size="8.6" fill="#333" text-anchor="end" stroke="#333" stroke-width="0.08" transform="translate(517.65,453.7) rotate(-45) scale(0.8064,1)">2010</text>
<line x1="533.88" y1="442" x2="533.88" y2="446.5" stroke="#555555" stroke-width="1"/>
<text font-size="8.6" fill="#333" text-anchor="end" stroke="#333" stroke-width="0.08" transform="translate(538.27,453.7) rotate(-45) scale(0.8064,1)">2015</text>
<line x1="554.5" y1="442" x2="554.5" y2="446.5" stroke="#555555" stroke-width="1"/>
<text font-size="8.6" fill="#333" text-anchor="end" stroke="#333" stroke-width="0.08" transform="translate(558.9,453.7) rotate(-45) scale(0.9507,1)">2020</text>
<rect x="568.7" y="221.3" width="112.5" height="12.7" fill="#fff" stroke="#666" stroke-width="0.95"/>
<text font-size="8.2" fill="#1a1a1a" text-anchor="middle" stroke="#1a1a1a" stroke-width="0.06" transform="translate(624.05,230.5) scale(0.8078,1)">EMRO</text>
<line x1="580.75" y1="442" x2="580.75" y2="234" stroke="#a9a9a9" stroke-width="1.2" stroke-dasharray="6.4 6.5" stroke-dashoffset="0"/>
<line x1="642.62" y1="442" x2="642.62" y2="234" stroke="#FAAA58" stroke-width="1.2" stroke-dasharray="6.4 6.5" stroke-dashoffset="0"/>
<line x1="667.38" y1="442" x2="667.38" y2="234" stroke="#6A9DCE" stroke-width="1.2" stroke-dasharray="6.4 6.5" stroke-dashoffset="0"/>
<path d="M580.6,303 C583.27,304.23 585.93,305.54 588.6,306.7 C591.67,308.03 594.73,309.32 597.8,310.4 C600.9,311.49 604,311.97 607.1,313.2 C610.2,314.43 613.3,316.1 616.4,317.8 C619.5,319.5 622.6,321.69 625.7,323.4 C628.77,325.09 631.83,326.25 634.9,328 C637.4,329.42 639.9,331.64 642.4,332.7 C644.23,333.47 646.07,333.74 647.9,334.2 C649.77,334.67 651.63,335.11 653.5,335.5 C655.33,335.88 657.17,336.23 659,336.5 C661.7,336.9 664.4,337.03 667.1,337.3 L667.1,371.6 C664.4,371.93 661.7,372.41 659,372.6 C657.17,372.73 655.33,372.8 653.5,372.8 C651.63,372.8 649.77,373.11 647.9,372.6 C646.07,372.1 644.23,371.01 642.4,369.8 C639.9,368.15 637.4,365.18 634.9,363.3 C631.83,361 628.77,359.39 625.7,357.7 C622.6,355.99 619.5,354.65 616.4,353.1 C613.3,351.55 610.2,349.95 607.1,348.4 C604,346.85 600.9,345.19 597.8,343.8 C594.73,342.43 591.67,341.25 588.6,340.1 C585.93,339.1 583.27,338.23 580.6,337.3 Z" fill="#FFD92F" fill-opacity="0.4"/>
<path d="M580.6,319.7 C583.27,320.93 585.93,322.24 588.6,323.4 C591.67,324.73 594.73,325.87 597.8,327.1 C600.9,328.34 604,329.25 607.1,330.8 C610.2,332.35 613.3,334.53 616.4,336.4 C619.5,338.27 622.6,340.37 625.7,342 C628.47,343.45 631.23,344.1 634,345.8 C636.77,347.5 639.53,350.79 642.3,352.2 C646.03,354.11 649.77,353.51 653.5,354 C658.03,354.6 662.57,354.87 667.1,355.3" fill="none" stroke="#FFD92F" stroke-width="1.4" stroke-linejoin="round"/>
<text font-size="8.1" fill="#a3a3a3" stroke="#a3a3a3" stroke-width="0.1" transform="translate(580.7,435.3) scale(0.9938,1)">2000</text>
<text font-size="8.1" fill="#F99C3C" text-anchor="end" stroke="#F99C3C" stroke-width="0.1" transform="translate(641.38,435.3) scale(0.8642,1)">2015</text>
<text font-size="8.1" fill="#5F96CC" text-anchor="end" stroke="#5F96CC" stroke-width="0.1" transform="translate(666.12,435.3) scale(0.8988,1)">2021</text>
<line x1="576.4" y1="442" x2="671.5" y2="442" stroke="#555555" stroke-width="1"/>
<line x1="580.6" y1="442" x2="580.6" y2="446.5" stroke="#555555" stroke-width="1"/>
<text font-size="8.6" fill="#333" text-anchor="end" stroke="#333" stroke-width="0.08" transform="translate(585,453.7) rotate(-45) scale(0.9507,1)">2000</text>
<line x1="601.23" y1="442" x2="601.23" y2="446.5" stroke="#555555" stroke-width="1"/>
<text font-size="8.6" fill="#333" text-anchor="end" stroke="#333" stroke-width="0.08" transform="translate(605.62,453.7) rotate(-45) scale(0.9507,1)">2005</text>
<line x1="621.85" y1="442" x2="621.85" y2="446.5" stroke="#555555" stroke-width="1"/>
<text font-size="8.6" fill="#333" text-anchor="end" stroke="#333" stroke-width="0.08" transform="translate(626.25,453.7) rotate(-45) scale(0.8064,1)">2010</text>
<line x1="642.48" y1="442" x2="642.48" y2="446.5" stroke="#555555" stroke-width="1"/>
<text font-size="8.6" fill="#333" text-anchor="end" stroke="#333" stroke-width="0.08" transform="translate(646.88,453.7) rotate(-45) scale(0.8064,1)">2015</text>
<line x1="663.1" y1="442" x2="663.1" y2="446.5" stroke="#555555" stroke-width="1"/>
<text font-size="8.6" fill="#333" text-anchor="end" stroke="#333" stroke-width="0.08" transform="translate(667.5,453.7) rotate(-45) scale(0.9507,1)">2020</text>
<rect x="43.7" y="34.05" width="16.9" height="8.4" rx="1.4" fill="#66C2A5" stroke="#fff" stroke-width="0.9"/>
<text font-size="7.3" fill="#fff" text-anchor="middle" transform="translate(52.15,40.8) scale(0.9041,1)">95.8</text>
<rect x="85.6" y="38.75" width="17.2" height="8.4" rx="1.4" fill="#66C2A5" stroke="#fff" stroke-width="0.9"/>
<text font-size="7.3" fill="#fff" text-anchor="middle" transform="translate(94.2,45.5) scale(0.9041,1)">91.6</text>
<rect x="127.9" y="41.75" width="16" height="8.4" rx="1.4" fill="#66C2A5" stroke="#fff" stroke-width="0.9"/>
<text font-size="7.3" fill="#fff" text-anchor="middle" transform="translate(135.9,48.5) scale(0.9041,1)">89.7</text>
<rect x="138.6" y="48.6" width="10.6" height="8.4" rx="1.4" fill="#8DA0CB" stroke="#fff" stroke-width="0.9"/>
<text font-size="7.3" fill="#fff" text-anchor="middle" transform="translate(143.9,55.35) scale(0.9041,1)">86</text>
<rect x="193.7" y="52.75" width="16.3" height="8.4" rx="1.4" fill="#8DA0CB" stroke="#fff" stroke-width="0.9"/>
<text font-size="7.3" fill="#fff" text-anchor="middle" transform="translate(201.85,59.5) scale(0.9041,1)">83.5</text>
<rect x="236.1" y="54" width="15.6" height="8.4" rx="1.4" fill="#8DA0CB" stroke="#fff" stroke-width="0.9"/>
<text font-size="7.3" fill="#fff" text-anchor="middle" transform="translate(243.9,60.75) scale(0.9041,1)">82.8</text>
<rect x="240.4" y="42.8" width="16.4" height="8.4" rx="1.4" fill="#FFD92F" stroke="#fff" stroke-width="0.9"/>
<text font-size="7.3" fill="#fff" text-anchor="middle" transform="translate(248.6,49.55) scale(0.9041,1)">89.2</text>
<rect x="302" y="56.8" width="16.2" height="8.4" rx="1.4" fill="#FFD92F" stroke="#fff" stroke-width="0.9"/>
<text font-size="7.3" fill="#fff" text-anchor="middle" transform="translate(310.1,63.55) scale(0.9041,1)">81.5</text>
<rect x="343.4" y="56.4" width="15.6" height="8.4" rx="1.4" fill="#FFD92F" stroke="#fff" stroke-width="0.9"/>
<text font-size="7.3" fill="#fff" text-anchor="middle" transform="translate(351.2,63.15) scale(0.9041,1)">81.5</text>
<rect x="348.2" y="45.6" width="16.2" height="8.4" rx="1.4" fill="#A6D854" stroke="#fff" stroke-width="0.9"/>
<text font-size="7.3" fill="#fff" text-anchor="middle" transform="translate(356.3,52.35) scale(0.9041,1)">87.6</text>
<rect x="409" y="55.7" width="17.1" height="8.4" rx="1.4" fill="#A6D854" stroke="#fff" stroke-width="0.9"/>
<text font-size="7.3" fill="#fff" text-anchor="middle" transform="translate(417.55,62.45) scale(0.9041,1)">81.9</text>
<rect x="451" y="57.5" width="16.4" height="8.4" rx="1.4" fill="#A6D854" stroke="#fff" stroke-width="0.9"/>
<text font-size="7.3" fill="#fff" text-anchor="middle" transform="translate(459.2,64.25) scale(0.9041,1)">80.9</text>
<rect x="456.2" y="49.95" width="15.7" height="8.4" rx="1.4" fill="#E78AC3" stroke="#fff" stroke-width="0.9"/>
<text font-size="7.3" fill="#fff" text-anchor="middle" transform="translate(464.05,56.7) scale(0.9041,1)">85.1</text>
<rect x="516.8" y="57.9" width="16.8" height="8.4" rx="1.4" fill="#E78AC3" stroke="#fff" stroke-width="0.9"/>
<text font-size="7.3" fill="#fff" text-anchor="middle" transform="translate(525.2,64.65) scale(0.9041,1)">80.8</text>
<rect x="558.8" y="59.55" width="15.9" height="8.4" rx="1.4" fill="#E78AC3" stroke="#fff" stroke-width="0.9"/>
<text font-size="7.3" fill="#fff" text-anchor="middle" transform="translate(566.75,66.3) scale(0.9041,1)">79.7</text>
<rect x="563.8" y="52" width="15.8" height="8.4" rx="1.4" fill="#FC8D62" stroke="#fff" stroke-width="0.9"/>
<text font-size="7.3" fill="#fff" text-anchor="middle" transform="translate(571.7,58.75) scale(0.9041,1)">83.9</text>
<rect x="624.7" y="59.45" width="16.4" height="8.4" rx="1.4" fill="#FC8D62" stroke="#fff" stroke-width="0.9"/>
<text font-size="7.3" fill="#fff" text-anchor="middle" transform="translate(632.9,66.2) scale(0.9041,1)">79.8</text>
<rect x="666.8" y="59.55" width="15.9" height="8.4" rx="1.4" fill="#FC8D62" stroke="#fff" stroke-width="0.9"/>
<text font-size="7.3" fill="#fff" text-anchor="middle" transform="translate(674.75,66.3) scale(0.9041,1)">79.6</text>
<rect x="39" y="272.85" width="16.1" height="8.4" rx="1.4" fill="#66C2A5" stroke="#fff" stroke-width="0.9"/>
<text font-size="7.3" fill="#fff" text-anchor="middle" transform="translate(47.05,279.6) scale(0.9041,1)">77.1</text>
<rect x="85.5" y="304.45" width="11.9" height="8.4" rx="1.4" fill="#66C2A5" stroke="#fff" stroke-width="0.9"/>
<text font-size="7.3" fill="#fff" text-anchor="middle" transform="translate(91.45,311.2) scale(0.9041,1)">67</text>
<rect x="123.8" y="312.15" width="16.7" height="8.4" rx="1.4" fill="#66C2A5" stroke="#fff" stroke-width="0.9"/>
<text font-size="7.3" fill="#fff" text-anchor="middle" transform="translate(132.15,318.9) scale(0.9041,1)">63.8</text>
<rect x="128.7" y="295.1" width="16.9" height="8.4" rx="1.4" fill="#FC8D62" stroke="#fff" stroke-width="0.9"/>
<text font-size="7.3" fill="#fff" text-anchor="middle" transform="translate(137.15,301.85) scale(0.9041,1)">70.9</text>
<rect x="188.3" y="319.8" width="18" height="8.4" rx="1.4" fill="#FC8D62" stroke="#fff" stroke-width="0.9"/>
<text font-size="7.3" fill="#fff" text-anchor="middle" transform="translate(197.3,326.55) scale(0.9041,1)">60.7</text>
<rect x="233.2" y="319.8" width="15.7" height="8.4" rx="1.4" fill="#FC8D62" stroke="#fff" stroke-width="0.9"/>
<text font-size="7.3" fill="#fff" text-anchor="middle" transform="translate(241.05,326.55) scale(0.9041,1)">60.5</text>
<rect x="243.2" y="299.8" width="10.7" height="8.4" rx="1.4" fill="#8DA0CB" stroke="#fff" stroke-width="0.9"/>
<text font-size="7.3" fill="#fff" text-anchor="middle" transform="translate(248.55,306.55) scale(0.9041,1)">69</text>
<rect x="303.7" y="328.75" width="11.2" height="8.4" rx="1.4" fill="#8DA0CB" stroke="#fff" stroke-width="0.9"/>
<text font-size="7.3" fill="#fff" text-anchor="middle" transform="translate(309.3,335.5) scale(0.9041,1)">57</text>
<rect x="341.4" y="331.5" width="16.3" height="8.4" rx="1.4" fill="#8DA0CB" stroke="#fff" stroke-width="0.9"/>
<text font-size="7.3" fill="#fff" text-anchor="middle" transform="translate(349.55,338.25) scale(0.9041,1)">55.6</text>
<rect x="352.3" y="302.1" width="10.5" height="8.4" rx="1.4" fill="#E78AC3" stroke="#fff" stroke-width="0.9"/>
<text font-size="7.3" fill="#fff" text-anchor="middle" transform="translate(357.55,308.85) scale(0.9041,1)">68</text>
<rect x="406.6" y="326.7" width="16.2" height="8.4" rx="1.4" fill="#E78AC3" stroke="#fff" stroke-width="0.9"/>
<text font-size="7.3" fill="#fff" text-anchor="middle" transform="translate(414.7,333.45) scale(0.9041,1)">57.8</text>
<rect x="449.8" y="329.5" width="16.7" height="8.4" rx="1.4" fill="#E78AC3" stroke="#fff" stroke-width="0.9"/>
<text font-size="7.3" fill="#fff" text-anchor="middle" transform="translate(458.15,336.25) scale(0.9041,1)">56.4</text>
<rect x="455" y="305.6" width="16.7" height="8.4" rx="1.4" fill="#A6D854" stroke="#fff" stroke-width="0.9"/>
<text font-size="7.3" fill="#fff" text-anchor="middle" transform="translate(463.35,312.35) scale(0.9041,1)">66.6</text>
<rect x="515.3" y="341.45" width="16.9" height="8.4" rx="1.4" fill="#A6D854" stroke="#fff" stroke-width="0.9"/>
<text font-size="7.3" fill="#fff" text-anchor="middle" transform="translate(523.75,348.2) scale(0.9041,1)">51.6</text>
<rect x="559.2" y="347.85" width="15.6" height="8.4" rx="1.4" fill="#A6D854" stroke="#fff" stroke-width="0.9"/>
<text font-size="7.3" fill="#fff" text-anchor="middle" transform="translate(567,354.6) scale(0.9041,1)">48.7</text>
<rect x="564.1" y="315.25" width="15.2" height="8.4" rx="1.4" fill="#FFD92F" stroke="#fff" stroke-width="0.9"/>
<text font-size="7.3" fill="#fff" text-anchor="middle" transform="translate(571.7,322) scale(0.9041,1)">62.5</text>
<rect x="623.8" y="348.5" width="16.3" height="8.4" rx="1.4" fill="#FFD92F" stroke="#fff" stroke-width="0.9"/>
<text font-size="7.3" fill="#fff" text-anchor="middle" transform="translate(631.95,355.25) scale(0.9041,1)">48.6</text>
<rect x="667.5" y="350.95" width="16.2" height="8.4" rx="1.4" fill="#FFD92F" stroke="#fff" stroke-width="0.9"/>
<text font-size="7.3" fill="#fff" text-anchor="middle" transform="translate(675.6,357.7) scale(0.9041,1)">47.4</text>
<text font-size="9.8" fill="#222" text-anchor="middle" transform="translate(11,103) rotate(-89.95) scale(0.8878,1)">AMU score</text>
<text font-size="9.8" fill="#222" text-anchor="middle" transform="translate(7.4,338.9) rotate(-89.95) scale(0.9028,1)">AMR prevalence score</text>
<text x="-0.4" y="6.8" font-size="13.5" font-weight="bold" fill="#000">a</text>
<text x="0" y="220.6" font-size="13.5" font-weight="bold" fill="#000">b</text>
<rect x="203.7" y="477.6" width="6.6" height="7.4" fill="#66C2A5" fill-opacity="0.4"/>
<line x1="203.7" y1="481" x2="210.3" y2="481" stroke="#66C2A5" stroke-width="1.5"/>
<text font-size="9.4" fill="#222" transform="translate(214.2,483.8) scale(0.8511,1)">AFRO</text>
<rect x="248.6" y="477.6" width="6.6" height="7.4" fill="#FC8D62" fill-opacity="0.4"/>
<line x1="248.6" y1="481" x2="255.2" y2="481" stroke="#FC8D62" stroke-width="1.5"/>
<text font-size="9.4" fill="#222" transform="translate(259.6,483.8) scale(0.8511,1)">EURO</text>
<rect x="296.2" y="477.6" width="6.6" height="7.4" fill="#8DA0CB" fill-opacity="0.4"/>
<line x1="296.2" y1="481" x2="302.8" y2="481" stroke="#8DA0CB" stroke-width="1.5"/>
<text font-size="9.4" fill="#222" transform="translate(306.7,483.8) scale(0.8511,1)">AMRO</text>
<rect x="343.8" y="477.6" width="6.6" height="7.4" fill="#E78AC3" fill-opacity="0.4"/>
<line x1="343.8" y1="481" x2="350.4" y2="481" stroke="#E78AC3" stroke-width="1.5"/>
<text font-size="9.4" fill="#222" transform="translate(354.7,483.8) scale(0.8511,1)">WPRO</text>
<rect x="389.3" y="477.6" width="6.6" height="7.4" fill="#A6D854" fill-opacity="0.4"/>
<line x1="389.3" y1="481" x2="395.9" y2="481" stroke="#A6D854" stroke-width="1.5"/>
<text font-size="9.4" fill="#222" transform="translate(400,483.8) scale(0.8511,1)">SEARO</text>
<rect x="440.1" y="477.6" width="6.6" height="7.4" fill="#FFD92F" fill-opacity="0.4"/>
<line x1="440.1" y1="481" x2="446.7" y2="481" stroke="#FFD92F" stroke-width="1.5"/>
<text font-size="9.4" fill="#222" transform="translate(450,483.8) scale(0.8511,1)">EMRO</text>
</svg>
</body></html>
